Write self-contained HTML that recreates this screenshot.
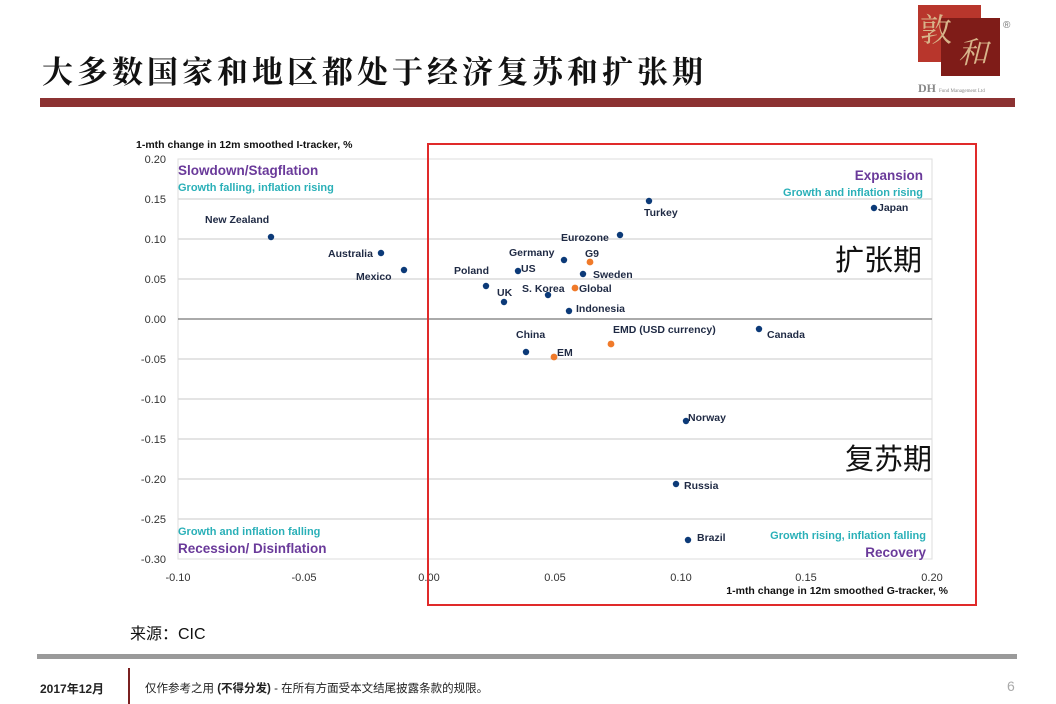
<!DOCTYPE html>
<html><head><meta charset="utf-8"><style>
html,body{margin:0;padding:0;background:#fff;}
body{width:1056px;height:704px;position:relative;overflow:hidden;font-family:"Liberation Sans","Noto Sans CJK SC",sans-serif;}
.a{position:absolute;}
</style></head><body>
<div class="a" style="left:42px;top:50px;font-family:'Noto Serif CJK SC','Noto Sans CJK SC',serif;font-size:31px;letter-spacing:4px;color:#111;line-height:40px;font-weight:bold;">大多数国家和地区都处于经济复苏和扩张期</div>
<div class="a" style="left:40px;top:98px;width:975px;height:9px;background:#8c3232;"></div>
<div class="a" style="left:918px;top:5px;width:63px;height:57px;background:#b8362c;"></div>
<div class="a" style="left:941px;top:18px;width:59px;height:58px;background:#7f1c18;"></div>
<div class="a" style="left:920px;top:8px;font-family:'Noto Serif CJK SC',serif;font-size:32px;color:#d8b48a;line-height:40px;">敦</div>
<div class="a" style="left:958px;top:32px;font-family:'Noto Serif CJK SC',serif;font-size:30px;color:#d8b48a;line-height:36px;font-style:italic;">和</div>
<div class="a" style="left:1003px;top:20px;font-size:10px;color:#777;">®</div>
<div class="a" style="left:918px;top:81px;font-family:'Liberation Serif',serif;font-weight:bold;font-size:12px;color:#888;">DH <span style="font-size:5px;font-weight:normal;">Fund Management Ltd</span></div>

<svg class="a" style="left:0;top:0" width="1056" height="704" xmlns="http://www.w3.org/2000/svg" font-family="Liberation Sans, sans-serif">
<rect x="178" y="159" width="754" height="400" fill="#fff" stroke="#ddd"/>
<g stroke="#dcdcdc" stroke-width="1.5">
<line x1="178" x2="932" y1="199" y2="199"/><line x1="178" x2="932" y1="239" y2="239"/><line x1="178" x2="932" y1="279" y2="279"/>
<line x1="178" x2="932" y1="359" y2="359"/><line x1="178" x2="932" y1="399" y2="399"/><line x1="178" x2="932" y1="439" y2="439"/>
<line x1="178" x2="932" y1="479" y2="479"/><line x1="178" x2="932" y1="519" y2="519"/>
</g>
<line x1="178" x2="932" y1="319" y2="319" stroke="#777" stroke-width="1.2"/>
<g font-size="11" fill="#333" text-anchor="end">
<text x="166" y="163">0.20</text><text x="166" y="203">0.15</text><text x="166" y="243">0.10</text><text x="166" y="283">0.05</text>
<text x="166" y="323">0.00</text><text x="166" y="363">-0.05</text><text x="166" y="403">-0.10</text><text x="166" y="443">-0.15</text>
<text x="166" y="483">-0.20</text><text x="166" y="523">-0.25</text><text x="166" y="563">-0.30</text>
</g>
<g font-size="11" fill="#333" text-anchor="middle">
<text x="178" y="581">-0.10</text><text x="304" y="581">-0.05</text><text x="429" y="581">0.00</text><text x="555" y="581">0.05</text>
<text x="681" y="581">0.10</text><text x="806" y="581">0.15</text><text x="932" y="581">0.20</text>
</g>
<text x="136" y="148" font-size="10.5" font-weight="bold" fill="#111">1-mth change in 12m smoothed I-tracker, %</text>
<text x="948" y="594" font-size="10.5" font-weight="bold" fill="#111" text-anchor="end">1-mth change in 12m smoothed G-tracker, %</text>
<g font-weight="bold">
<text x="178" y="175" font-size="13.5" fill="#6a3a9a">Slowdown/Stagflation</text>
<text x="178" y="191" font-size="11" fill="#2ab0b8">Growth falling, inflation rising</text>
<text x="923" y="180" font-size="13.5" fill="#6a3a9a" text-anchor="end">Expansion</text>
<text x="923" y="196" font-size="11" fill="#2ab0b8" text-anchor="end">Growth and inflation rising</text>
<text x="178" y="535" font-size="11" fill="#2ab0b8">Growth and inflation falling</text>
<text x="178" y="553" font-size="13.5" fill="#6a3a9a">Recession/ Disinflation</text>
<text x="926" y="539" font-size="11" fill="#2ab0b8" text-anchor="end">Growth rising,  inflation falling</text>
<text x="926" y="557" font-size="13.5" fill="#6a3a9a" text-anchor="end">Recovery</text>
</g>
<g fill="#0c3a78">
<circle cx="271" cy="237" r="3.2"/><circle cx="381" cy="253" r="3.2"/><circle cx="404" cy="270" r="3.2"/>
<circle cx="486" cy="286" r="3.2"/><circle cx="504" cy="302" r="3.2"/><circle cx="518" cy="271" r="3.2"/>
<circle cx="548" cy="295" r="3.2"/><circle cx="564" cy="260" r="3.2"/><circle cx="583" cy="274" r="3.2"/>
<circle cx="569" cy="311" r="3.2"/><circle cx="620" cy="235" r="3.2"/><circle cx="649" cy="201" r="3.2"/>
<circle cx="874" cy="208" r="3.2"/><circle cx="526" cy="352" r="3.2"/><circle cx="759" cy="329" r="3.2"/>
<circle cx="686" cy="421" r="3.2"/><circle cx="676" cy="484" r="3.2"/><circle cx="688" cy="540" r="3.2"/>
</g>
<g fill="#f07a2a">
<circle cx="590" cy="262" r="3.4"/><circle cx="575" cy="288" r="3.4"/><circle cx="554" cy="357" r="3.4"/><circle cx="611" cy="344" r="3.4"/>
</g>
<g font-size="10.5" font-weight="bold" fill="#1f2a44">
<text x="205" y="223">New Zealand</text><text x="328" y="257">Australia</text><text x="356" y="280">Mexico</text>
<text x="454" y="274">Poland</text><text x="497" y="296">UK</text><text x="521" y="272">US</text>
<text x="509" y="256">Germany</text><text x="585" y="257">G9</text><text x="593" y="278">Sweden</text>
<text x="522" y="292">S. Korea</text><text x="579" y="292">Global</text><text x="576" y="312">Indonesia</text>
<text x="561" y="241">Eurozone</text><text x="644" y="216">Turkey</text><text x="878" y="211">Japan</text>
<text x="516" y="338">China</text><text x="557" y="356">EM</text><text x="613" y="333">EMD (USD currency)</text>
<text x="767" y="338">Canada</text><text x="688" y="421">Norway</text><text x="684" y="489">Russia</text><text x="697" y="541">Brazil</text>
</g>
<text x="922" y="270" font-size="29" fill="#111" text-anchor="end" font-family="Noto Sans CJK SC, sans-serif">扩张期</text>
<text x="932" y="469" font-size="29" fill="#111" text-anchor="end" font-family="Noto Sans CJK SC, sans-serif">复苏期</text>
<rect x="428" y="144" width="548" height="461" fill="none" stroke="#e02a2a" stroke-width="2"/>
</svg>

<div class="a" style="left:130px;top:620px;font-size:16px;color:#111;">来源：CIC</div>
<div class="a" style="left:37px;top:654px;width:980px;height:5px;background:#9a9a9a;"></div>
<div class="a" style="left:40px;top:680px;font-size:12px;font-weight:bold;color:#222;">2017年12月</div>
<div class="a" style="left:128px;top:668px;width:2px;height:36px;background:#7a2020;"></div>
<div class="a" style="left:145px;top:680px;font-size:11.5px;color:#222;">仅作参考之用 <b>(不得分发)</b> - 在所有方面受本文结尾披露条款的规限。</div>
<div class="a" style="left:1007px;top:678px;font-size:14px;color:#aaa;">6</div>
</body></html>
